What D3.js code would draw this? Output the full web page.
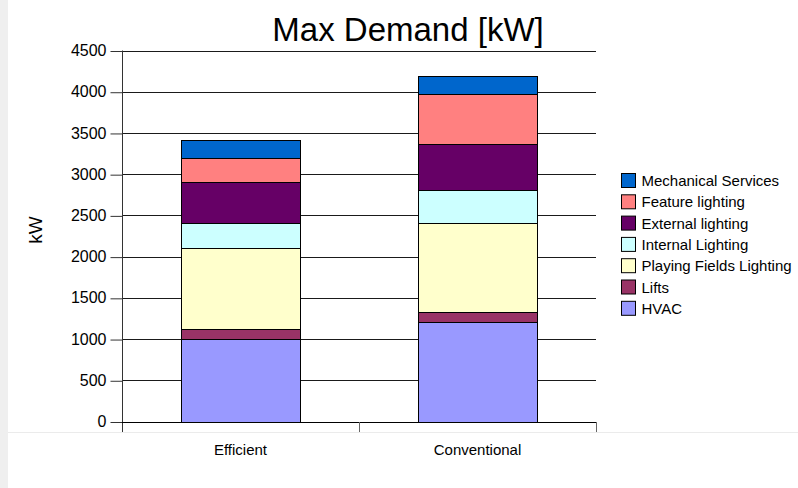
<!DOCTYPE html>
<html>
<head>
<meta charset="utf-8">
<script src="https://cdn.jsdelivr.net/npm/d3@7"></script>
<style>
  html, body { margin: 0; padding: 0; background: #ffffff; }
  svg { display: block; font-family: "Liberation Sans", Arial, sans-serif; }
</style>
</head>
<body>
<svg id="chart" width="798" height="488"></svg>
<script>
// Max demand per load type, for the two design options
const categories = ["Efficient", "Conventional"];
const seriesNames = ["HVAC", "Lifts", "Playing Fields Lighting", "Internal Lighting",
                     "External lighting", "Feature lighting", "Mechanical Services"];
const hvac               = [1000, 1210];
const lifts              = [120, 120];
const playingFields      = [980, 1080];
const internalLighting   = [310, 400];
const externalLighting   = [500, 560];
const featureLighting    = [290, 600];
const mechanicalServices = [220, 220];
const seriesColors = ["#9999ff", "#993366", "#ffffcc", "#ccffff", "#660066", "#ff8080", "#0066cc"];
const yTicks = [0, 500, 1000, 1500, 2000, 2500, 3000, 3500, 4000, 4500];

const seriesValues = [hvac, lifts, playingFields, internalLighting,
                      externalLighting, featureLighting, mechanicalServices];

const rows = categories.map((c, i) => {
  const r = { category: c };
  seriesNames.forEach((s, k) => { r[s] = seriesValues[k][i]; });
  return r;
});
const stacked = d3.stack().keys(seriesNames)(rows);

const svg = d3.select("#chart");
const W = 798, H = 488;
const plot = { left: 122, right: 596, top: 50.5, bottom: 421.5 };

// page frame
svg.append("rect").attr("x", 0).attr("y", 0).attr("width", W).attr("height", H).attr("fill", "#ffffff");
svg.append("rect").attr("x", 0).attr("y", 0).attr("width", 8).attr("height", H).attr("fill", "#efefef");
svg.append("line").attr("x1", 8).attr("x2", W).attr("y1", 432.5).attr("y2", 432.5)
  .attr("stroke", "#ebebeb").attr("stroke-width", 1);

const x = d3.scaleBand().domain(categories).range([plot.left, plot.right]).padding(0);
const y = d3.scaleLinear().domain([0, 4500]).range([plot.bottom, plot.top]);

// gridlines
svg.append("g").selectAll("line").data(yTicks.filter(t => t > 0)).join("line")
  .attr("x1", plot.left).attr("x2", plot.right)
  .attr("y1", d => Math.round(y(d)) + 0.5).attr("y2", d => Math.round(y(d)) + 0.5)
  .attr("stroke", "#1a1a1a").attr("stroke-width", 1);

// stacked bars
const barW = x.bandwidth() * 0.5;
svg.append("g").selectAll("g").data(stacked).join("g")
  .attr("fill", (d, i) => seriesColors[i])
  .selectAll("rect").data(d => d).join("rect")
  .attr("x", d => Math.round(x(d.data.category) + (x.bandwidth() - barW) / 2) + 0.5)
  .attr("y", d => Math.round(y(d[1])) + 0.5)
  .attr("width", Math.round(barW))
  .attr("height", d => Math.round(y(d[0])) - Math.round(y(d[1])))
  .attr("stroke", "#000").attr("stroke-width", 1);

// y axis
const yAxis = d3.axisLeft(y).tickValues(yTicks).tickSize(12).tickPadding(4).tickFormat(d3.format("d"));
const gy = svg.append("g").attr("transform", `translate(${plot.left + 0.5},0)`).call(yAxis);
gy.select(".domain").remove();
gy.selectAll(".tick line").attr("stroke", "#333").attr("transform", "translate(0,0.5)");
gy.selectAll(".tick text").attr("font-size", 16).attr("fill", "#000")
  .attr("font-family", "Liberation Sans, Arial, sans-serif");
svg.append("line").attr("x1", plot.left + 0.5).attr("x2", plot.left + 0.5)
  .attr("y1", plot.top).attr("y2", 432).attr("stroke", "#333");

// x axis
svg.append("line").attr("x1", plot.left).attr("x2", plot.right)
  .attr("y1", Math.round(y(0)) + 0.5).attr("y2", Math.round(y(0)) + 0.5).attr("stroke", "#000");
const bounds = [plot.left + x.bandwidth(), plot.right];
svg.append("g").selectAll("line").data(bounds).join("line")
  .attr("x1", d => Math.round(d) + 0.5).attr("x2", d => Math.round(d) + 0.5)
  .attr("y1", Math.round(y(0))).attr("y2", 432).attr("stroke", "#666");
svg.append("g").selectAll("text").data(categories).join("text")
  .attr("x", d => x(d) + x.bandwidth() / 2).attr("y", 454.5)
  .attr("text-anchor", "middle").attr("font-size", 15).attr("fill", "#000")
  .text(d => d);

// axis title
svg.append("text").attr("transform", "translate(42,230) rotate(-90)")
  .attr("text-anchor", "middle").attr("font-size", 19).attr("fill", "#000").text("kW");

// chart title
svg.append("text").attr("x", 408).attr("y", 41).attr("text-anchor", "middle")
  .attr("font-size", 33).attr("fill", "#000").text("Max Demand [kW]");

// legend, top entry is the top of the stack
const legendItems = seriesNames.map((s, i) => ({ name: s, color: seriesColors[i] })).reverse();
const lg = svg.append("g").selectAll("g").data(legendItems).join("g")
  .attr("transform", (d, i) => `translate(621.5,${173.5 + i * 21.3})`);
lg.append("rect").attr("width", 14).attr("height", 14)
  .attr("fill", d => d.color).attr("stroke", "#000").attr("stroke-width", 1);
lg.append("text").attr("x", 20).attr("y", 12.5).attr("font-size", 15).attr("fill", "#000")
  .text(d => d.name);
</script>
</body>
</html>
